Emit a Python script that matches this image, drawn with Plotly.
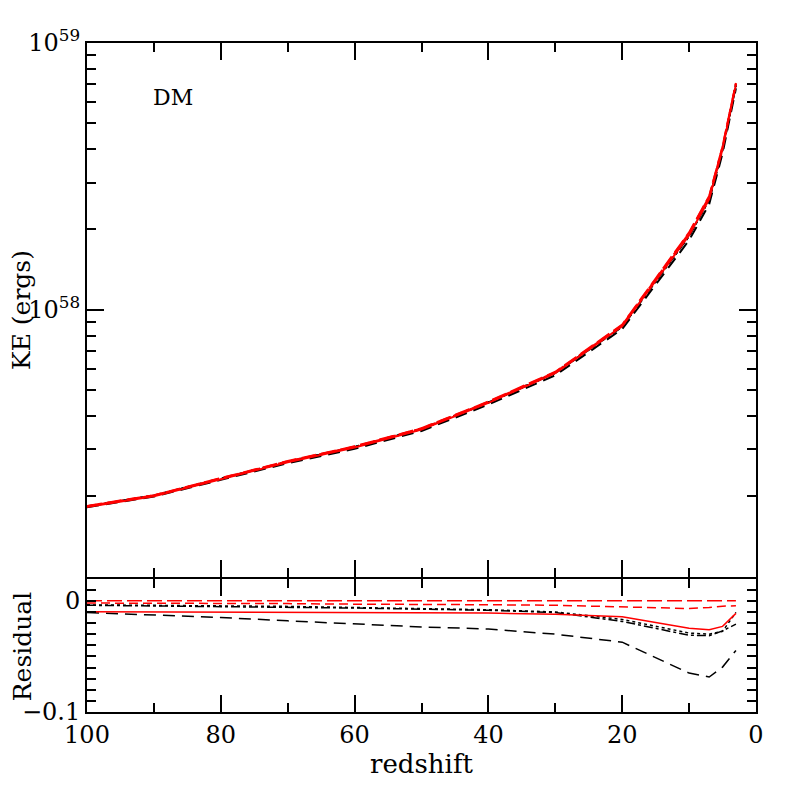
import plotly.graph_objects as go
from plotly.subplots import make_subplots

# redshift sample points
redshift = [100, 90, 80, 70, 60, 50, 40, 30, 20, 10, 7, 5, 3]

# kinetic energy in units of 1e57 ergs
ke_red_longdash = [1.84, 2.02, 2.34, 2.71, 3.08, 3.60, 4.53, 5.86, 8.80, 19.5, 26.7, 41.0, 70.8]
ke_red_dash = [1.836, 2.016, 2.335, 2.703, 3.071, 3.589, 4.514, 5.837, 8.752, 19.37, 26.54, 40.80, 70.48]
ke_red_solid = [1.822, 2.000, 2.317, 2.682, 3.046, 3.560, 4.480, 5.790, 8.674, 19.02, 26.01, 40.06, 70.00]
ke_black_dot = [1.833, 2.012, 2.329, 2.696, 3.062, 3.575, 4.494, 5.801, 8.653, 18.93, 25.90, 39.88, 70.06]
ke_black_dashdot = [1.833, 2.011, 2.328, 2.695, 3.060, 3.573, 4.492, 5.798, 8.637, 18.90, 25.86, 39.89, 69.31]
ke_black_longdash = [1.821, 1.995, 2.305, 2.661, 3.015, 3.515, 4.415, 5.684, 8.473, 18.23, 24.87, 38.56, 67.64]

# residuals (bottom panel)
res_red_longdash = [0, 0, 0, 0, 0, 0, 0, 0, 0, 0, 0, 0, 0]
res_red_dash = [-0.002, -0.002, -0.002, -0.0025, -0.003, -0.003, -0.0035, -0.004, -0.0054, -0.0069, -0.006, -0.0048, -0.0045]
res_red_solid = [-0.0098, -0.010, -0.010, -0.0105, -0.011, -0.011, -0.011, -0.012, -0.0143, -0.0247, -0.026, -0.023, -0.0113]
res_black_dot = [-0.0036, -0.004, -0.0045, -0.005, -0.006, -0.007, -0.008, -0.010, -0.0167, -0.029, -0.030, -0.0274, -0.0104]
res_black_dashdot = [-0.004, -0.0045, -0.005, -0.0055, -0.0065, -0.0075, -0.0085, -0.0105, -0.0185, -0.031, -0.0313, -0.027, -0.021]
res_black_longdash = [-0.0105, -0.0125, -0.015, -0.018, -0.021, -0.0235, -0.0253, -0.030, -0.0372, -0.065, -0.0685, -0.0596, -0.0446]

FONT = "DejaVu Serif"
RED = "#ff0000"
BLACK = "#000000"

styles = [
    (ke_black_longdash, res_black_longdash, BLACK, "12px,7px"),
    (ke_black_dashdot, res_black_dashdot, BLACK, "dashdot"),
    (ke_black_dot, res_black_dot, BLACK, "dot"),
    (ke_red_solid, res_red_solid, RED, "solid"),
    (ke_red_dash, res_red_dash, RED, "9px,5px"),
    (ke_red_longdash, res_red_longdash, RED, "15px,5px"),
]

fig = make_subplots(rows=2, cols=1, shared_xaxes=True, row_heights=[0.8, 0.2], vertical_spacing=0.003)

for ke, res, col, dash in styles:
    fig.add_trace(go.Scatter(x=redshift, y=[v * 1e57 for v in ke], mode="lines",
                             line=dict(color=col, width=2, dash=dash), showlegend=False), row=1, col=1)
    fig.add_trace(go.Scatter(x=redshift, y=res, mode="lines",
                             line=dict(color=col, width=1.5, dash=dash), showlegend=False), row=2, col=1)

minor_log = [m * 10.0 ** e for e in (57, 58) for m in range(2, 10)]

axis_common = dict(showline=True, linecolor="black", linewidth=2, mirror="ticks", automargin=False,
                   ticks="inside", tickcolor="black", tickwidth=2, showgrid=False, zeroline=False,
                   tickfont=dict(family=FONT, size=24, color="black"))

fig.update_xaxes(range=[100, 0], tickvals=[100, 80, 60, 40, 20, 0], ticklen=17,
                 minor=dict(dtick=10, tick0=0, ticklen=9, ticks="inside", tickcolor="black", tickwidth=2),
                 **axis_common)
fig.update_xaxes(showticklabels=False, row=1, col=1)
fig.update_xaxes(title=dict(text="redshift", font=dict(family=FONT, size=26, color="black"), standoff=6),
                 row=2, col=1)

fig.update_yaxes(type="log", range=[57, 59], tickvals=[1e58, 1e59],
                 ticktext=["10<sup>58</sup>", "10<sup>59</sup>"], ticklen=17,
                 minor=dict(tickvals=minor_log, ticklen=9, ticks="inside", tickcolor="black", tickwidth=2),
                 row=1, col=1, **axis_common)
fig.update_yaxes(range=[-0.1, 0.02], tickvals=[-0.1, 0], ticktext=["−0.1", "0"], ticklen=9,
                 minor=dict(dtick=0.01, tick0=0, ticklen=9, ticks="inside", tickcolor="black", tickwidth=2),
                 row=2, col=1, **axis_common)

# y titles as rotated annotations so they sit clear of the tick labels
fig.add_annotation(text="KE (ergs)", x=-0.097, y=0.601, xref="paper", yref="paper", textangle=-90,
                   xanchor="center", yanchor="middle",
                   showarrow=False, font=dict(family=FONT, size=25, color="black"))
fig.add_annotation(text="Residual", x=-0.097, y=0.097, xref="paper", yref="paper", textangle=-90,
                   xanchor="center", yanchor="middle",
                   showarrow=False, font=dict(family=FONT, size=25, color="black"))

fig.add_annotation(text="DM", x=87.1, y=58.794, xref="x", yref="y", showarrow=False,
                   font=dict(family=FONT, size=22, color="black"))

# page body adds an 8px offset, so margins are shifted to land the axes where the reference has them
fig.update_layout(width=797, height=797, margin=dict(l=79, r=49, t=35, b=93),
                  plot_bgcolor="white", paper_bgcolor="white")

fig.write_html("out.html")
